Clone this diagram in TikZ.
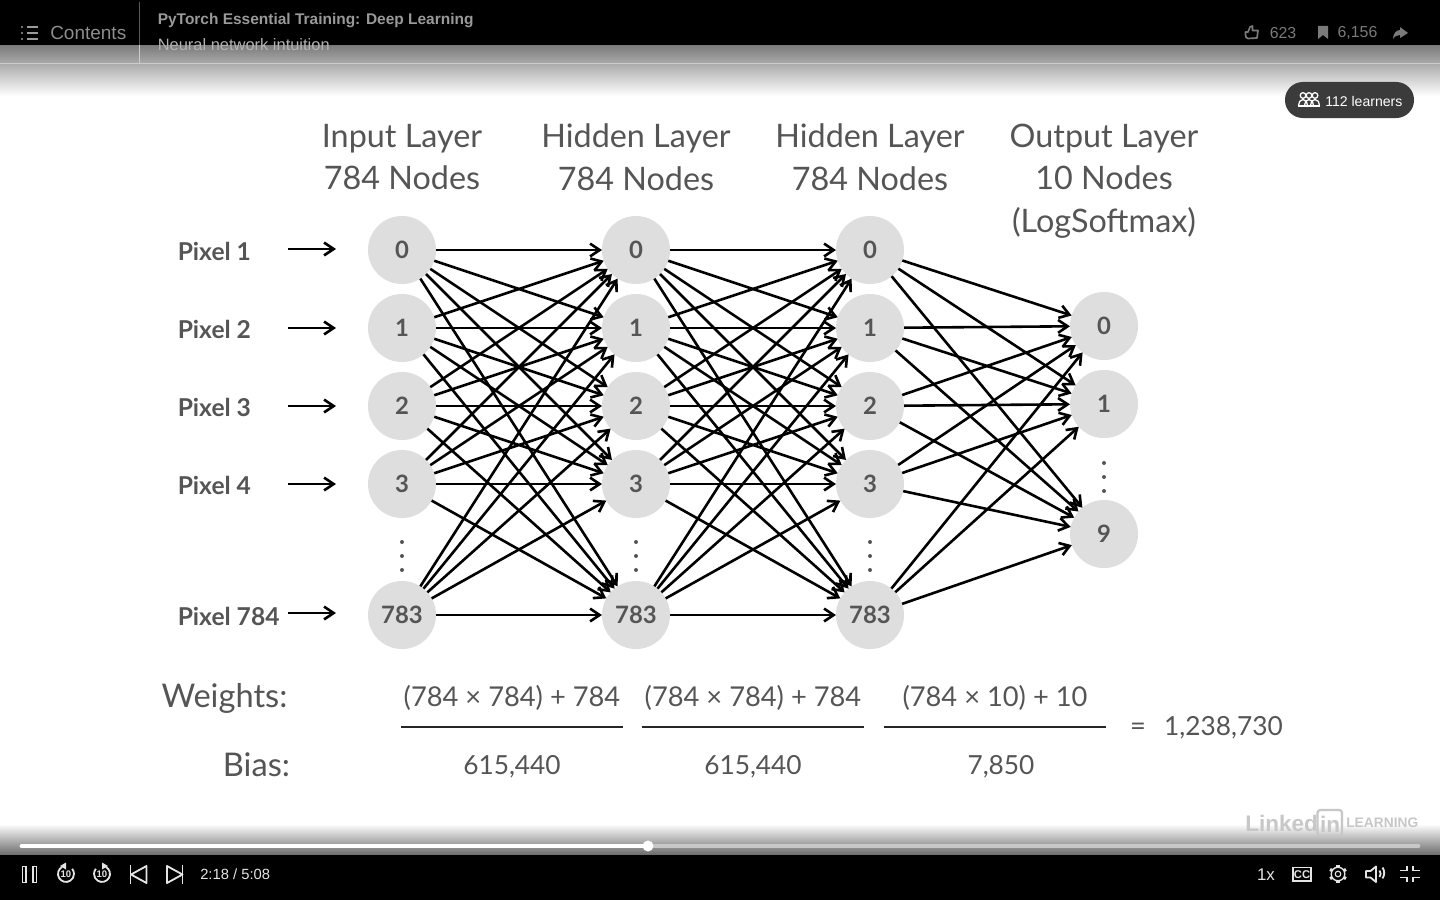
\documentclass[tikz,border=0pt]{standalone}
\usepackage{fontspec}
\setmainfont{Lato}
\newfontfamily\uifont{Liberation Sans}
\usetikzlibrary{arrows.meta,positioning}
\definecolor{slidetext}{HTML}{555555}
\definecolor{nodegray}{HTML}{DEDEDF}
\definecolor{uigray}{HTML}{7A7A7A}
\definecolor{uilight}{HTML}{E4E4E4}
\tikzset{
  neuron/.style={circle,fill=nodegray,text=slidetext,minimum size=1.7cm,inner sep=0pt,outer sep=0pt,font=\fontsize{17}{20}\selectfont\bfseries},
  layerhead/.style={anchor=north,align=center,text=slidetext,font=\fontsize{23}{30.2}\selectfont},
  pixlabel/.style={anchor=west,inner sep=0pt,text=slidetext,font=\fontsize{17.5}{20}\selectfont\bfseries},
  calc/.style={text=slidetext,font=\fontsize{19.4}{22}\selectfont},
  calcnum/.style={text=slidetext,font=\fontsize{18.7}{22}\selectfont},
  bigcalc/.style={text=slidetext,font=\fontsize{23.2}{26}\selectfont},
  edge/.style={->,line width=1.85pt},
  uitext/.style={text=uigray,inner sep=0pt,font=\uifont\fontsize{11.3}{14}\selectfont},
  icon/.style={draw=uilight,line width=1.3pt},
  dimicon/.style={draw=uigray,line width=1.2pt}
}
\newcommand{\vdotted}[2]{%
  \foreach \d in {-14,0,14} \fill[slidetext] (#1,#2+\d) circle(2);
}
\begin{document}
\begin{tikzpicture}[>={Straight Barb[length=2.4mm,width=3.2mm]},x=0.025cm,y=-0.025cm]
\useasboundingbox (0,0) rectangle (1440,900);
\fill[white] (0,0) rectangle (1440,900);
% bars of the player
\shade[top color=black!52,bottom color=white] (0,45) rectangle (1440,96);
\shade[top color=white,bottom color=black!60] (0,824) rectangle (1440,856);
\fill[black] (0,0) rectangle (1440,45);
\fill[black] (0,855) rectangle (1440,900);
\draw[white!80!black,line width=.7pt] (0,63.5)--(1440,63.5);
\draw[black!65,line width=.7pt] (139.5,2)--(139.5,45);
\draw[white!80!black,line width=.7pt] (139.5,45)--(139.5,63);
% layers
\foreach \i/\yy/\t in {0/250/0,1/328/1,2/406/2,3/484/3,4/615/783} {
  \path
  (402,\yy) node[neuron] (x\i) {\t}
  (636,\yy) node[neuron] (h\i) {\t}
  (870,\yy) node[neuron] (k\i) {\t};
}
\foreach \i/\yy/\t in {0/326/0,1/404/1,2/534/9}
  \node[neuron] (y\i) at (1104,\yy) {\t};
\foreach \a in {0,...,4} \foreach \b in {0,...,4} {
  \draw[edge] (x\a)--(h\b);
  \draw[edge] (h\a)--(k\b);
}
\foreach \a in {0,...,4} \foreach \b in {0,1,2}
  \draw[edge] (k\a)--(y\b);
\vdotted{402}{556}
\vdotted{636}{556}
\vdotted{870}{556}
\vdotted{1104}{477}
% input side
\foreach \i/\yy/\ay/\t in {0/251/249/Pixel 1,1/329/328/Pixel 2,2/407/406/Pixel 3,3/485/484/Pixel 4,4/616/613/Pixel 784} {
  \node[pixlabel] (l\i) at (177.5,\yy) {\t};
  \coordinate (a\i) at (288,\ay);
  \coordinate (b\i) at (336,\ay);
  \draw[edge] (a\i)--(b\i);
}
\node[layerhead] (t0) at (402,119) {Input Layer\\784 Nodes};
\node[layerhead] (t1) at (636,119) {Hidden Layer\\784 Nodes};
\node[layerhead] (t2) at (870,119) {Hidden Layer\\784 Nodes};
\node[layerhead] (t3) at (1104,119) {Output Layer\\10 Nodes\\(LogSoftmax)};
% counts
\path
(224.5,698) node[bigcalc] (w) {Weights:}
(256.5,765) node[bigcalc] (bb) {Bias:}
(512,697.5) node[calc] (w1) {(784 × 784) + 784}
(753,697.5) node[calc] (w2) {(784 × 784) + 784}
(995,697.5) node[calc] (w3) {(784 × 10) + 10}
(512,767) node[calcnum] (b1) {615,440}
(753,767) node[calcnum] (b2) {615,440}
(1001,767) node[calcnum] (b3) {7,850}
(1138,729) node[calc] (eq) {=}
(1223.5,728) node[calcnum] (tot) {1,238,730};
\draw[black!85,line width=1.7pt] (401,727)--(623,727);
\draw[black!85,line width=1.7pt] (642,727)--(864,727);
\draw[black!85,line width=1.7pt] (884,727)--(1106,727);
% top bar
\foreach \yy in {27,33,39} {
  \fill[uigray!75] (22,\yy) circle(1.1);
  \draw[uigray!75,line width=.9pt] (26.5,\yy)--(38,\yy);
}
\node[uitext,anchor=west,text=uigray!85,font=\uifont\fontsize{13.5}{16}\selectfont] (cont) at (50,32.5) {Contents};
\node[uitext,anchor=west,text=black!40,font=\uifont\bfseries\fontsize{11}{14}\selectfont] (title) at (157.5,20.5) {PyTorch Essential Training: Deep Learning};
\node[uitext,anchor=west,text=black!30,font=\uifont\fontsize{11.7}{14}\selectfont] (sub) at (157.5,44.5) {Neural network intuition};
\draw[dimicon,line join=round] (1245.5,32)--(1248,32)--(1250,27)--(1252.5,26)--(1252.5,30.5)--(1258,30.5)--(1257,38)--(1248,38.5) to[out=180,in=-90] (1245.5,35)--cycle;
\node[uitext] (n623) at (1283,33) {623};
\fill[uigray] (1318,26)--(1328,26)--(1328,39)--(1323,35)--(1318,39)--cycle;
\node[uitext] (n6156) at (1357.5,32.8) {6,156};
\fill[uigray] (1400,27)--(1408,33)--(1400,38)--(1400,35) .. controls (1397,35) and (1395,36) .. (1393,39) .. controls (1393,34) and (1396,30) .. (1400,30)--cycle;
% learners badge
\fill[black!77,rounded corners=12.6pt] (1285,82) rectangle (1414,118);
\foreach \xx in {1303,1309,1315} {
  \draw[white,line width=.9pt] (\xx,95.5) circle(2.8);
  \draw[white,line width=.9pt] (\xx-4.5,105.5) to[out=90,in=180] (\xx,99.5) to[out=0,in=90] (\xx+4.5,105.5);
}
\draw[white,line width=1pt] (1298,105.8)--(1320,105.8);
\node[anchor=west,text=white,font=\uifont\fontsize{10}{12}\selectfont,inner sep=0pt] (learn) at (1325,101) {112 learners};
% progress
\draw[white!78!black,line width=3.4pt,line cap=round] (648,846)--(1418,846);
\draw[white,line width=3.4pt,line cap=round] (22,846)--(648,846);
\fill[white] (648,846) circle(5.5);
% bottom controls
\draw[icon] (22.5,866.5) rectangle (26,882.5);
\draw[icon] (33,866.5) rectangle (36.5,882.5);
\draw[icon] (62,867) arc[start angle=-120,end angle=-400,radius=8];
\fill[uilight] (66,862.5)--(60,866)--(66,869.5)--cycle;
\node[text=uilight,font=\uifont\bfseries\fontsize{6.8}{8}\selectfont,inner sep=0pt] (r10) at (66,874.5) {10};
\draw[icon] (106,867) arc[start angle=-60,end angle=220,radius=8];
\fill[uilight] (102,862.5)--(108,866)--(102,869.5)--cycle;
\node[text=uilight,font=\uifont\bfseries\fontsize{6.8}{8}\selectfont,inner sep=0pt] (f10) at (102,874.5) {10};
\draw[icon] (130.5,865)--(130.5,883.5);
\draw[icon,line join=round] (146.5,866)--(146.5,883)--(131,874.5)--cycle;
\draw[icon,line join=round] (167,866)--(167,883)--(182.5,874.5)--cycle;
\draw[icon] (182.5,865)--(182.5,883.5);
\node[anchor=west,text=uilight,font=\uifont\fontsize{10.5}{12}\selectfont,inner sep=0pt] (time) at (200,874) {2:18 / 5:08};
\node[text=uilight,font=\uifont\fontsize{12}{14}\selectfont,inner sep=0pt] (speed) at (1266,874.5) {1x};
\draw[icon] (1293,867.5) rectangle (1311,881);
\node[text=uilight,font=\uifont\bfseries\fontsize{8}{9}\selectfont,inner sep=0pt] (cc) at (1302,874.2) {CC};
\draw[uilight,line width=1pt] (1338,874) circle(6.8);
\draw[uilight,line width=.8pt] (1338,874) circle(2.8);
\foreach \ang in {0,60,...,300}
  \draw[uilight,line width=2.2pt] (1338,874)++(\ang+30:6.8)--++(\ang+30:2.4);
\draw[icon,line join=round] (1366,871)--(1370.5,871)--(1376,866.5)--(1376,882)--(1370.5,877.5)--(1366,877.5)--cycle;
\draw[icon] (1379.5,870.5) arc[start angle=-40,end angle=40,radius=5];
\draw[icon] (1382.5,867.5) arc[start angle=-35,end angle=35,radius=9.5];
\draw[icon] (1400,870.5)--(1407,870.5)--(1407,866);
\draw[icon] (1420,870.5)--(1413,870.5)--(1413,866);
\draw[icon] (1400,877.5)--(1407,877.5)--(1407,882);
\draw[icon] (1420,877.5)--(1413,877.5)--(1413,882);
% watermark
\node[anchor=west,text=black!22,font=\uifont\bfseries\fontsize{16}{20}\selectfont,inner sep=0pt] (lkd) at (1245,823) {Linked};
\draw[black!22,line width=1.6pt,rounded corners=2] (1317.5,810) rectangle (1342,836);
\node[text=black!22,font=\uifont\bfseries\fontsize{16}{20}\selectfont,inner sep=0pt] (lin) at (1330,824) {in};
\node[anchor=west,text=black!22,font=\uifont\bfseries\fontsize{9.8}{12}\selectfont,inner sep=0pt] (lrn) at (1346,823) {LEARNING};
\end{tikzpicture}
\end{document}
